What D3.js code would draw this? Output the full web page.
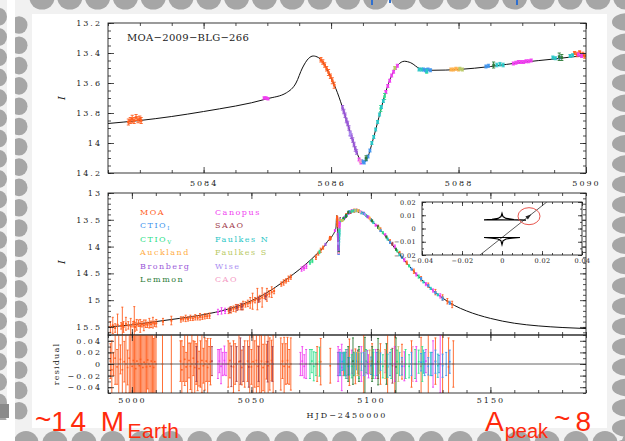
<!DOCTYPE html>
<html><head><meta charset="utf-8">
<script src="https://cdn.jsdelivr.net/npm/d3@7"></script>
<style>body{margin:0;background:#f1f1f1}svg{display:block}</style>
</head><body>
<svg id="c" width="625" height="441"></svg>
<script>
// ================= DATA =================
const eventName = "MOA\u22122009\u2212BLG\u2212266";
const observatories = ["MOA","CTIO_I","CTIO_V","Auckland","Bronberg","Lemmon","Canopus","SAAO","Faulkes N","Faulkes S","Wise","CAO"];
const obsColors = ["#ff5f1f","#3f94ee","#2fe08a","#ffae45","#9b59d9","#2b7b37","#f03ef0","#a3404e","#28c6c6","#b9c965","#ab8ff2","#f49ac4"];

// best-fit model light curve: HJD-2450000, I mag
const modelT = [4990,5000,5010,5020,5030,5040,5045,5050,5055,5060,5065,5070,5075,5078,5080,5082.5,5083,5084,5085,5085.3,5085.45,5085.55,5085.65,5085.72,5085.8,5085.9,5086.0,5086.1,5086.2,5086.3,5086.4,5086.47,5086.52,5086.58,5086.65,5086.75,5086.85,5086.95,5087.05,5087.15,5087.25,5087.4,5087.6,5088.0,5088.5,5089.0,5089.5,5090.0,5092,5094,5096,5098,5100,5103,5106,5110,5115,5120,5125,5130,5135,5140,5150,5160,5170,5180,5190];
const modelI = [15.50,15.46,15.40,15.34,15.27,15.17,15.10,15.01,14.90,14.76,14.60,14.43,14.24,14.11,14.02,13.87,13.85,13.79,13.705,13.665,13.60,13.50,13.435,13.42,13.43,13.48,13.565,13.665,13.79,13.93,14.06,14.12,14.13,14.09,13.99,13.83,13.67,13.55,13.48,13.455,13.465,13.505,13.515,13.51,13.49,13.462,13.44,13.415,13.35,13.325,13.35,13.42,13.50,13.64,13.80,14.03,14.31,14.56,14.78,14.96,15.10,15.20,15.34,15.43,15.48,15.51,15.53];

// photometry [HJD-2450000, I, sigma]
const phMOA = [[4991,15.5,.1],[4992,15.47,.15],[4993,15.52,.08],[4994,15.46,.2],[4995.5,15.48,.06],[4996,15.45,.32],[4996.5,15.5,.1],[4997.5,15.44,.12],[4998.5,15.47,.07],[4999.5,15.49,.15],[5000.5,15.45,.05],[5001,15.4,.28],[5001.3,15.5,.08],[5002,15.46,.1],[5002.8,15.43,.06],[5003.5,15.48,.12],[5004.2,15.45,.05],[5005,15.47,.1],[5005.8,15.44,.07],[5006.5,15.46,.05],[5007.3,15.43,.09],[5008,15.45,.06],[5008.8,15.42,.1],[5009.5,15.44,.05],[5010.2,15.43,.07],[5013,15.4,.06],[5016.5,15.38,.08],
 [5020.5,15.36,.05],[5021.5,15.35,.04],[5022.5,15.34,.06],[5023.5,15.35,.04],[5024.5,15.33,.05],[5025.5,15.34,.04],[5026.5,15.32,.05],[5027.5,15.33,.04],[5028.5,15.31,.06],[5029.5,15.32,.04],[5030.5,15.3,.05],[5031.5,15.3,.04],[5032.5,15.29,.05],
 [5040.5,15.2,.05],[5041.5,15.18,.06],[5042.5,15.16,.05],[5043.5,15.15,.07],[5044.5,15.13,.05],[5045.5,15.12,.06],[5046.5,15.1,.08],[5047.5,15.08,.05],[5048.5,15.06,.06],
 [5049.5,15.05,.1],[5050.5,15.02,.15],[5051.5,15.0,.05],[5052.5,14.98,.2],[5053.5,14.97,.06],[5054.5,14.95,.18],[5055.5,14.92,.05],[5056.5,14.9,.12],[5057.5,14.88,.06],[5058.5,14.85,.1],[5059.5,14.83,.05],
 [5062.5,14.7,.04],[5063.5,14.67,.05],[5064.5,14.64,.04],[5065.5,14.6,.05],[5066.5,14.57,.04],
 [5077,14.2,.04],[5078,14.13,.03],[5079,14.07,.04],[5080,14.02,.03],
 [5082.82,13.86,.02],[5082.85,13.85,.02],[5082.88,13.84,.025],[5082.91,13.85,.02],[5082.94,13.83,.02],[5082.97,13.845,.02],[5083.0,13.84,.02],[5083.02,13.85,.02],
 [5085.84,13.445,.015],[5085.87,13.46,.015],[5085.9,13.48,.015],[5085.93,13.505,.015],[5085.96,13.53,.02],[5085.99,13.555,.015],[5086.02,13.585,.02],[5086.05,13.615,.02],
 [5089.82,13.4,.01],[5089.86,13.41,.015],[5089.9,13.395,.01],[5089.95,13.41,.015],[5089.98,13.42,.015],
 [5091,13.36,.02],[5093,13.33,.03],[5095,13.34,.02],[5097,13.38,.02],
 [5100,13.5,.02],[5104,13.68,.03],[5108,13.9,.03],[5112,14.12,.03],[5115,14.3,.03],[5118,14.46,.04],[5121,14.6,.04],[5124,14.72,.04],[5127,14.85,.05],[5130,14.95,.05],[5132,15.02,.05],[5134,15.08,.06]];
const phCTIOI = [[5086.47,14.12,.01],[5086.5,14.125,.01],[5086.52,14.13,.01],[5086.55,14.11,.01],[5086.58,14.09,.01],[5086.61,14.05,.01],[5087.45,13.51,.01],[5087.48,13.515,.01],[5087.52,13.51,.01],[5087.56,13.515,.01],[5088.43,13.49,.01],[5088.47,13.485,.01],[5089.58,13.43,.01],[5091,13.35,.02],[5094,13.33,.02],[5097,13.38,.02],[5100,13.5,.02],[5104,13.7,.02],[5108,13.92,.02],[5113,14.2,.02],[5117,14.42,.02],[5121,14.6,.02],[5124,14.73,.02],[5127,14.86,.02],[5130,14.97,.03],[5133,15.05,.03]];
const phCTIOV = [[5074.5,14.3,.03],[5075.5,14.27,.03],[5078.5,14.1,.03],[5086.78,13.77,.02],[5086.84,13.69,.02],[5087.5,13.52,.015],[5092,13.34,.02],[5098,13.42,.02],[5105,13.74,.02],[5111,14.08,.02],[5116,14.36,.02],[5120,14.56,.03]];
const phAuckland = [[5087.88,13.51,.01],[5087.92,13.51,.01],[5087.96,13.505,.01],[5088.0,13.51,.01],[5094.5,13.33,.02],[5099.5,13.47,.02]];
const phBronberg = [[5081,13.96,.02],[5086.18,13.765,.015],[5086.2,13.79,.015],[5086.22,13.815,.015],[5086.24,13.85,.015],[5086.26,13.87,.015],[5086.28,13.9,.015],[5086.3,13.935,.015],[5086.32,13.955,.015],[5086.34,13.98,.015],[5086.36,14.01,.015],[5086.38,14.04,.015],[5086.4,14.06,.015],[5098.5,13.44,.02]];
const phLemmon = [[5086.55,14.1,.015],[5088.55,13.48,.02],[5089.58,13.425,.025],[5089.62,13.43,.02],[5090.5,13.36,.02],[5095,13.34,.02],[5100.5,13.52,.02],[5103,13.64,.02],[5106.5,13.82,.02],[5110.5,14.05,.02]];
const phCanopus = [[5036,15.22,.05],[5037.5,15.2,.06],[5039,15.2,.05],[5071,14.42,.04],[5072,14.4,.04],[5073,14.37,.04],[5084.95,13.7,.008],[5084.98,13.7,.008],[5085.01,13.705,.008],[5086.44,14.11,.01],[5086.47,14.13,.01],[5086.86,13.66,.01],[5086.89,13.62,.01],[5086.92,13.585,.01],[5086.95,13.55,.01],[5086.98,13.525,.01],[5087.01,13.5,.01],[5087.04,13.485,.01],[5088.86,13.47,.01],[5088.9,13.465,.01],[5088.94,13.46,.01],[5088.98,13.46,.01],[5089.02,13.46,.01],[5089.06,13.455,.01],[5089.1,13.455,.01],[5089.14,13.45,.01],[5089.88,13.41,.01],[5089.93,13.42,.01],[5090.6,13.38,.02],[5092,13.33,.02],[5096,13.36,.02],[5099,13.45,.02],[5102,13.6,.02],[5106,13.78,.02],[5110,14.0,.03],[5114,14.25,.03],[5119,14.52,.03],[5123,14.7,.03],[5126,14.82,.03],[5129,14.92,.04]];
const phSAAO = [[5041,15.18,.05],[5044,15.14,.05],[5046,15.12,.06],[5053,14.99,.05],[5056,14.93,.06],[5091.5,13.36,.02],[5094,13.32,.02],[5103,13.62,.02],[5109,13.95,.03]];
const phFaulkesN = [[5086.64,14.0,.01],[5086.67,13.96,.01],[5086.7,13.91,.01],[5086.73,13.86,.01],[5086.76,13.81,.01],[5086.79,13.76,.01],[5086.82,13.72,.01],[5087.38,13.51,.01],[5087.42,13.51,.01],[5087.5,13.52,.01],[5088.6,13.48,.012],[5088.65,13.475,.012],[5088.7,13.48,.012],[5089.48,13.43,.01],[5089.52,13.435,.01],[5089.75,13.42,.01],[5089.79,13.415,.01],[5093,13.33,.02],[5096,13.37,.02],[5101,13.55,.02],[5107,13.86,.02],[5112,14.15,.02],[5122,14.66,.02],[5125,14.78,.02],[5128,14.9,.02]];
const phFaulkesS = [[5087.0,13.5,.01],[5088.02,13.505,.01],[5088.06,13.51,.01],[5093.5,13.33,.02],[5103.5,13.66,.02]];
const phWise = [[5086.3,13.94,.015],[5097.5,13.4,.02]];
const phCAO = [[5086.46,14.12,.01],[5095.5,13.35,.02]];

// residuals [HJD-2450000, residual, sigma]
const resMOA = [[4991.0,.005,.03],[4991.6,-.01,.05],[4992.3,0,.02],[4993.0,.01,.045],[4993.8,-.005,.03],[4994.5,0,.06],[4995.2,.008,.025],[4996.0,-.01,.07],[4996.8,.004,.035],[4997.5,0,.05],[4998.2,-.006,.03],[4998.9,.01,.06],[4999.5,0,.08],[5000.1,-.004,.07],[5000.6,.006,.09],[5001.1,0,.06],[5001.6,-.008,.08],[5002.1,.005,.07],[5002.6,0,.1],[5003.1,-.003,.06],[5003.6,.008,.09],[5004.1,0,.07],[5004.6,-.006,.08],[5005.1,.003,.06],[5005.6,0,.09],[5006.1,-.005,.07],[5006.6,.007,.05],[5007.1,0,.08],[5007.6,-.004,.06],[5008.1,.005,.09],[5008.6,0,.07],[5009.1,-.006,.05],[5009.6,.004,.08],[5010.1,0,.06],[5012.8,0,.08],[5016.5,0,.08],
 [5020.3,.005,.035],[5020.9,-.01,.05],[5021.5,0,.03],[5022.1,.008,.045],[5022.7,-.005,.025],[5023.3,0,.06],[5023.9,.006,.03],[5024.5,-.004,.04],[5025.1,0,.05],[5025.7,.01,.03],[5026.3,-.006,.045],[5026.9,0,.035],[5027.5,.004,.05],[5028.1,-.008,.03],[5028.7,0,.04],[5029.3,.006,.055],[5029.9,-.003,.03],[5030.5,0,.045],[5031.1,.005,.035],[5031.7,-.006,.05],[5032.3,0,.03],[5032.9,.004,.04],
 [5040.3,0,.04],[5041.0,.006,.03],[5042.5,-.005,.045],[5043.2,0,.035],[5044.8,.004,.05],[5046.0,-.006,.03],[5047.2,0,.04],[5048.4,.005,.035],
 [5049.3,0,.06],[5050.0,-.005,.03],[5050.7,.004,.08],[5051.4,0,.04],[5052.1,.006,.1],[5052.8,-.004,.035],[5053.5,0,.05],[5054.2,.005,.09],[5054.9,-.006,.04],[5055.6,0,.06],[5056.3,.004,.03],[5057.0,-.003,.08],[5057.7,0,.045],[5058.4,.006,.035],[5059.1,0,.05],
 [5062.3,0,.045],[5063.0,.005,.03],[5063.7,-.004,.05],[5064.4,0,.035],[5065.1,.006,.04],[5065.8,-.005,.03],[5066.5,0,.045],
 [5077.5,0,.03],[5079,.004,.04],[5083,-.003,.03],[5088.5,0,.02],[5091,.003,.04],[5093.5,-.004,.03],[5097,0,.05],[5100.5,.005,.03],[5104,0,.035],[5107,-.005,.06],[5110,0,.07],[5113,.004,.03],[5117,0,.04],[5121,-.004,.05],[5124,0,.06],[5127,.005,.04],[5130,0,.07],[5132.5,-.005,.05],[5134.5,0,.04]];
const resCTIOI = [[5086.8,0,.02],[5088,.004,.015],[5089,0,.02],[5091,-.004,.015],[5093,0,.02],[5094,.005,.015],[5097,0,.02],[5100,-.003,.015],[5102.5,0,.02],[5104,.004,.015],[5108,0,.02],[5113,-.004,.015],[5117,0,.02],[5121,.003,.015],[5122.5,0,.02],[5124,-.004,.015],[5125.5,0,.02],[5127,.004,.02],[5128.5,0,.015],[5130,-.003,.02],[5131.5,0,.02],[5133,.004,.02]];
const resCTIOV = [[5074.5,0,.025],[5075.3,.005,.02],[5076.1,-.004,.025],[5077,0,.02],[5078.5,.004,.025],[5089.5,0,.025],[5092,-.004,.02],[5095,0,.025],[5098,.005,.02],[5101,0,.025],[5105,-.004,.02],[5108.5,0,.025],[5111,.004,.02],[5114.5,0,.025],[5116,-.004,.02],[5118.5,0,.025],[5120,.004,.02],[5121.5,0,.03]];
const resAuckland = [[5094.5,0,.02],[5099.5,.004,.02],[5106,0,.025]];
const resBronberg = [[5086.2,0,.02],[5098.5,.003,.02]];
const resLemmon = [[5090.5,0,.03],[5092.5,.005,.04],[5095,0,.03],[5097.5,-.004,.05],[5100.5,0,.03],[5103,.004,.04],[5106.5,0,.035],[5110.5,-.005,.05]];
const resCanopus = [[5036.0,0,.025],[5036.6,.005,.02],[5037.3,-.004,.03],[5038.0,0,.02],[5038.7,.006,.025],[5039.4,0,.02],[5070.5,0,.02],[5071.3,.005,.025],[5072.1,-.004,.02],[5072.9,0,.025],[5086.3,0,.03],[5087,.005,.02],[5087.8,-.006,.04],[5090,0,.025],[5092,.004,.02],[5096,0,.03],[5099,-.004,.02],[5102,0,.025],[5106,.005,.02],[5110,0,.03],[5114,-.004,.025],[5119,0,.03],[5123,.005,.02],[5126,0,.04],[5129,0,.05]];
const resSAAO = [[5027,0,.03],[5033.5,.005,.025],[5041.6,-.004,.035],[5043.8,0,.03],[5045.4,.005,.04],[5046.6,0,.03],[5048.9,-.005,.035],[5053,0,.03],[5056.8,.004,.035],[5058.8,0,.03],[5089.5,0,.02],[5094.5,.004,.02],[5103,0,.025],[5109,-.003,.03]];
const resFaulkesN = [[5087.3,0,.02],[5088.6,.005,.015],[5089,0,.02],[5090.5,-.004,.015],[5093,0,.02],[5096,.004,.015],[5101,0,.02],[5107,-.003,.02],[5112,0,.02],[5122,.004,.02],[5125,0,.02],[5128,-.003,.02]];
const resFaulkesS = [[5093.5,0,.02],[5103.5,.004,.02],[5111.5,0,.03]];
const resWise = [[5097.5,0,.02]];
const resCAO = [[5095.5,0,.02],[5117.5,0,.03]];

// caustics & source trajectory in the inset (Einstein-radius units)
const causticUpper = [[-0.009,0.0065],[-0.005,0.0069],[-0.002,0.0076],[-0.0005,0.009],[0,0.0115],[0.0005,0.009],[0.002,0.0076],[0.006,0.0068],[0.012,0.0063],[0.006,0.0064],[0,0.0065],[-0.005,0.0065],[-0.009,0.0065]];
const causticLower = [[-0.009,-0.0068],[-0.005,-0.0072],[-0.002,-0.0079],[-0.0005,-0.0093],[0,-0.0122],[0.0005,-0.0093],[0.002,-0.0079],[0.005,-0.0072],[0.009,-0.0068],[0.0045,-0.0068],[0,-0.0068],[-0.0045,-0.0068],[-0.009,-0.0068]];
const trajectory = [[-0.011,-0.02],[0.0224,0.02]];
const sourceMark = [0.0135,0.0093];

// tick values
const topXMajor=[5084,5086,5088,5090], topYMajor=[13.2,13.4,13.6,13.8,14,14.2];
const botXMajor=[5000,5050,5100,5150], botYMajor=[13,13.5,14,14.5,15,15.5];
const resYMajor=[-0.04,-0.02,0,0.02,0.04];
const insXMajor=[-0.04,-0.02,0,0.02,0.04], insYMajor=[-0.02,-0.01,0,0.01,0.02];

// ================= TABLES =================
const photTable = [phMOA,phCTIOI,phCTIOV,phAuckland,phBronberg,phLemmon,phCanopus,phSAAO,phFaulkesN,phFaulkesS,phWise,phCAO];
const resTable = [resMOA,resCTIOI,resCTIOV,resAuckland,resBronberg,resLemmon,resCanopus,resSAAO,resFaulkesN,resFaulkesS,resWise,resCAO];
const drawOrder = [0,7,6,2,1,8,5,3,9,4,10,11];
const model = modelT.map((t,i)=>[t,modelI[i]]);

// ================= DRAW =================
const W=625,H=441, svg=d3.select("#c");
const SERIF="DejaVu Serif", INK="#222";
const fmt = d => { const s=String(+Math.abs(d).toFixed(3)); return d<0?"\u2212"+s:s; };

// slide background
svg.append("rect").attr("width",W).attr("height",H).attr("fill","#f1f1f1");
const deco = svg.append("g").attr("fill","#a6a6a6");
for(let k=0;k<21;k++) deco.append("ellipse").attr("cx",-1).attr("cy",16.7+20.3*k).attr("rx",8).attr("ry",8.8);
for(let k=0;k<20;k++) deco.append("ellipse").attr("cx",19).attr("cy",25+20.3*k).attr("rx",8.5).attr("ry",8.8);
svg.append("rect").attr("x",7).attr("y",0).attr("width",8).attr("height",H).attr("fill","#ffffff");
svg.append("rect").attr("x",0).attr("y",420).attr("width",15).attr("height",21).attr("fill","#ffffff");
svg.append("rect").attr("x",0).attr("y",404).attr("width",9).attr("height",14).attr("fill","#8a8a8a");
for(let k=1;k<23;k++) deco.append("ellipse").attr("cx",14.2+27.8*k).attr("cy",-2).attr("rx",12.5).attr("ry",11.5);
for(let k=0;k<22;k++) deco.append("ellipse").attr("cx",26+28.95*k).attr("cy",443).attr("rx",12.5).attr("ry",12);
for(let k=0;k<22;k++) deco.append("ellipse").attr("cx",627).attr("cy",22+20.3*k).attr("rx",15).attr("ry",8.8);
svg.append("g").attr("fill","#2e6fd0").selectAll("rect").data([[371,0,2,5],[389,0,2,3],[516,0,2,5]]).join("rect")
  .attr("x",d=>d[0]).attr("y",d=>d[1]).attr("width",d=>d[2]).attr("height",d=>d[3]);
svg.append("rect").attr("x",32).attr("y",14).attr("width",575).attr("height",414).attr("fill","#ffffff");

// scales
const xT=d3.scaleLinear([5082.5,5090],[108,586]), yT=d3.scaleLinear([13.2,14.2],[23,173]);
const xB=d3.scaleLinear([4990,5190],[108,586]), yB=d3.scaleLinear([13,15.65],[193,335]);
const yR=d3.scaleLinear([-0.05,0.05],[393,335]);
const xI=d3.scaleLinear([-0.04,0.04],[422,582]), yI=d3.scaleLinear([-0.02,0.02],[255,202]);

function clip(id,x,y){ svg.append("clipPath").attr("id",id).append("rect")
  .attr("x",x.range()[0]).attr("y",Math.min(...y.range())).attr("width",x.range()[1]-x.range()[0]).attr("height",Math.abs(y.range()[1]-y.range()[0])); }
clip("cT",xT,yT); clip("cB",xB,yB); clip("cR",xB,yR);

function axisSet(x,y,o){
  const g=svg.append("g");
  const [x0,x1]=x.range(), yr=y.range(), yTop=Math.min(...yr), yBot=Math.max(...yr);
  const M=o.maj||6, m=o.min||3, fs=o.fs||8, ls=o.ls==null?2:o.ls;
  function put(axis, vals, size, labels, tr, pad){
    const gg=g.append("g").attr("transform",tr).call(axis.tickValues(vals).tickSize(size).tickPadding(pad||0).tickFormat(labels?fmt:()=>""));
    gg.select(".domain").remove();
    gg.selectAll("line").attr("stroke",INK).attr("stroke-width",0.8);
    gg.attr("font-family",SERIF).attr("font-size",fs);
    gg.selectAll("text").attr("fill",INK).attr("letter-spacing",ls);
  }
  const xMin=d3.range(x.domain()[0],x.domain()[1]+1e-9,o.xMinStep);
  const yD=y.domain(), yMin=d3.range(Math.min(...yD),Math.max(...yD)+1e-9,o.yMinStep);
  put(d3.axisBottom(x),o.xMaj,-M,o.xLab,`translate(0,${yBot})`,o.xPad);
  put(d3.axisBottom(x),xMin,-m,false,`translate(0,${yBot})`);
  put(d3.axisTop(x),o.xMaj,-M,false,`translate(0,${yTop})`);
  put(d3.axisTop(x),xMin,-m,false,`translate(0,${yTop})`);
  put(d3.axisLeft(y),o.yMaj,-M,true,`translate(${x0},0)`,o.yPad);
  put(d3.axisLeft(y),yMin,-m,false,`translate(${x0},0)`);
  put(d3.axisRight(y),o.yMaj,-M,false,`translate(${x1},0)`);
  put(d3.axisRight(y),yMin,-m,false,`translate(${x1},0)`);
  g.append("rect").attr("x",x0).attr("y",yTop).attr("width",x1-x0).attr("height",yBot-yTop)
    .attr("fill","none").attr("stroke",INK).attr("stroke-width",0.9);
}

function errPoints(g,x,y,data,color,cap,sz){
  const p=d3.path();
  data.forEach(d=>{const X=x(d[0]),a=y(d[1]-d[2]),b=y(d[1]+d[2]);
    p.moveTo(X,a);p.lineTo(X,b);p.moveTo(X-cap,a);p.lineTo(X+cap,a);p.moveTo(X-cap,b);p.lineTo(X+cap,b);});
  g.append("path").attr("d",p.toString()).attr("stroke",color).attr("stroke-width",0.9).attr("fill","none");
  g.append("g").selectAll("rect").data(data).join("rect").attr("x",d=>x(d[0])-sz/2).attr("y",d=>y(d[1])-sz/2)
    .attr("width",sz).attr("height",sz).attr("fill",color);
}
const line=(x,y)=>d3.line().x(d=>x(d[0])).y(d=>y(d[1])).curve(d3.curveMonotoneX);

// ---- top panel (anomaly) ----
const gT=svg.append("g").attr("clip-path","url(#cT)");
gT.append("path").attr("d",line(xT,yT)(model)).attr("fill","none").attr("stroke","#111").attr("stroke-width",1);
drawOrder.forEach(i=>errPoints(gT,xT,yT,photTable[i].filter(d=>d[0]>=5082.4&&d[0]<=5090.1),obsColors[i],1.6,2.6));
axisSet(xT,yT,{xMaj:topXMajor,yMaj:topYMajor,xMinStep:0.5,yMinStep:0.05,xLab:true,xPad:7,yPad:6});
svg.append("text").attr("x",127).attr("y",41).attr("font-family",SERIF).attr("font-size",10).attr("letter-spacing",0.3).attr("fill","#222").text(eventName);

// ---- bottom panel (full light curve) ----
const gB=svg.append("g").attr("clip-path","url(#cB)");
gB.append("path").attr("d",line(xB,yB)(model)).attr("fill","none").attr("stroke","#111").attr("stroke-width",1);
drawOrder.forEach(i=>errPoints(gB,xB,yB,photTable[i],obsColors[i],1,2));
axisSet(xB,yB,{xMaj:botXMajor,yMaj:botYMajor,xMinStep:10,yMinStep:0.1,xLab:false,yPad:6});

// ---- residual panel ----
const gR=svg.append("g").attr("clip-path","url(#cR)");
drawOrder.forEach(i=>errPoints(gR,xB,yR,resTable[i],obsColors[i],1,1.6));
gR.append("line").attr("x1",108).attr("x2",586).attr("y1",yR(0)).attr("y2",yR(0)).attr("stroke","#666").attr("stroke-width",1);
axisSet(xB,yR,{xMaj:botXMajor,yMaj:resYMajor,xMinStep:10,yMinStep:0.01,xLab:true,xPad:4.3,yPad:6});

// axis titles
const ax=svg.append("g").attr("font-family",SERIF).attr("fill","#222");
ax.append("text").attr("transform","translate(65,98) rotate(-90)").attr("text-anchor","middle").attr("font-size",10).attr("font-style","italic").text("I");
ax.append("text").attr("transform","translate(65,262) rotate(-90)").attr("text-anchor","middle").attr("font-size",10).attr("font-style","italic").text("I");
ax.append("text").attr("transform","translate(59,364) rotate(-90)").attr("text-anchor","middle").attr("font-size",8).attr("letter-spacing",1.2).text("residual");
ax.append("text").attr("x",347).attr("y",418).attr("text-anchor","middle").attr("font-size",8).attr("letter-spacing",2).text("HJD\u22122450000");

// legend
const lg=svg.append("g").attr("font-family",SERIF).attr("font-size",8).attr("letter-spacing",1.5);
observatories.forEach((name,i)=>{
  const col=i<6?0:1,row=i%6, parts=name.split("_");
  const t=lg.append("text").attr("x",col?215:140).attr("y",214.5+13.5*row).attr("fill",obsColors[i]).text(parts[0]);
  if(parts[1]) t.append("tspan").attr("font-size",5.5).attr("dy",2).attr("letter-spacing",0).text(parts[1]);
});

// ---- inset: caustics and trajectory ----
svg.append("rect").attr("x",422).attr("y",202).attr("width",160).attr("height",53).attr("fill","#fff");
svg.append("clipPath").attr("id","cI").append("rect").attr("x",422).attr("y",202).attr("width",160).attr("height",53);
const gI=svg.append("g").attr("clip-path","url(#cI)");
const cl=d3.line().x(d=>xI(d[0])).y(d=>yI(d[1])).curve(d3.curveLinear);
gI.append("path").attr("d",cl(trajectory)).attr("stroke","#333").attr("stroke-width",0.8).attr("fill","none");
[causticUpper,causticLower].forEach(c=>gI.append("path").attr("d",cl(c)).attr("stroke","#000").attr("stroke-width",1.2).attr("fill","none"));
const ang=Math.atan2(yI(trajectory[1][1])-yI(trajectory[0][1]),xI(trajectory[1][0])-xI(trajectory[0][0]))*180/Math.PI;
gI.append("path").attr("d","M3,0 L-3,-2 L-3,2 Z").attr("fill","#222")
  .attr("transform",`translate(${xI(sourceMark[0])},${yI(sourceMark[1])}) rotate(${ang})`);
gI.append("ellipse").attr("cx",xI(sourceMark[0])).attr("cy",yI(sourceMark[1])).attr("rx",11).attr("ry",8.5)
  .attr("fill","none").attr("stroke","#e8564e").attr("stroke-width",1);
axisSet(xI,yI,{xMaj:insXMajor,yMaj:insYMajor,xMinStep:0.005,yMinStep:0.005,xLab:true,xPad:3,yPad:6,maj:4,min:2,fs:6.5,ls:0.4});

// ---- slide annotations ----
const red="#ff2a0c", SANS="Liberation Sans";
const a1=svg.append("text").attr("x",35).attr("y",431).attr("font-family",SANS).attr("font-size",28).attr("fill",red);
a1.append("tspan").attr("dy",-2).text("~");
a1.append("tspan").attr("dy",2).attr("letter-spacing",3.5).text("14 M");
a1.append("tspan").attr("font-size",21).attr("dy",7).attr("letter-spacing",0.3).text("Earth");
const a2=svg.append("text").attr("x",485).attr("y",431).attr("font-family",SANS).attr("font-size",28).attr("fill",red);
a2.append("tspan").attr("letter-spacing",1).text("A");
a2.append("tspan").attr("font-size",20).attr("dy",7).text("peak");
a2.append("tspan").attr("dy",-10).attr("dx",6).text("~");
a2.append("tspan").attr("dy",3).attr("dx",5).text("8");
</script>
</body></html>
